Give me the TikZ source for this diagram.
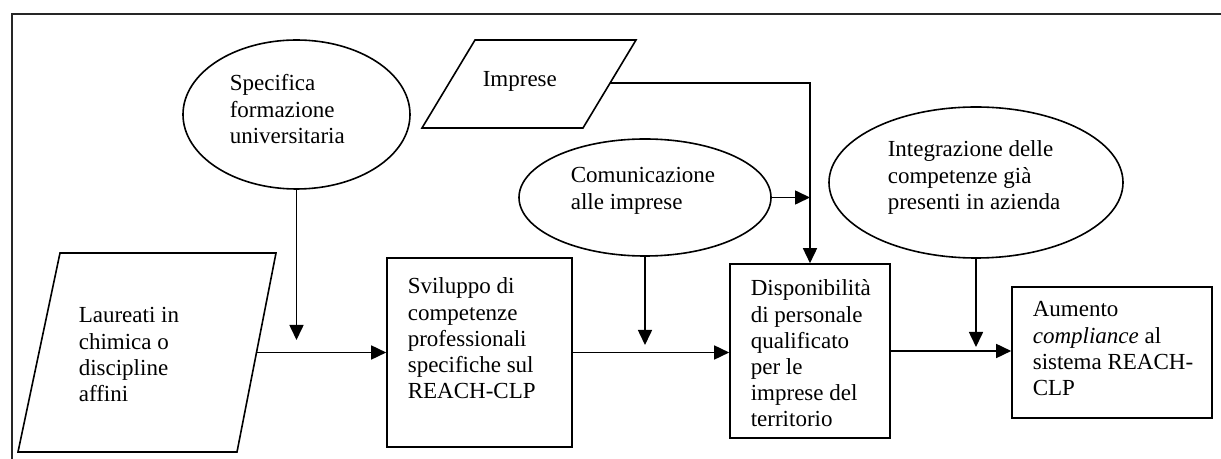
\documentclass[tikz,border=0pt]{standalone}
\usepackage{fontspec}
\setmainfont{Liberation Serif}
\usetikzlibrary{shapes.geometric,arrows.meta,calc}
\begin{document}
\begin{tikzpicture}[x=0.5pt,y=-0.5pt,
  line width=0.8pt,
  arr/.style={-{Triangle[length=7.5pt,width=7pt]}},
  ell/.style={draw,ellipse,inner sep=0pt},
  box/.style={draw,rectangle,inner sep=0pt},
  lbl/.style={anchor=base west,inner sep=0pt,font=\fontsize{11.5pt}{13.1pt}\selectfont}]
\useasboundingbox (0,0) rectangle (1221,459);
% frame
\draw[line width=0.9pt,black!85] (12,459) -- (12,14) -- (1221,14);
% parallelogram: Imprese
\coordinate (I1) at (475,40);
\coordinate (I2) at (636,40);
\coordinate (I3) at (583,128);
\coordinate (I4) at (422,128);
\draw (I1) -- (I2) -- (I3) -- (I4) -- cycle;
\coordinate (IR) at ($(I2)!0.489!(I3)$);
% parallelogram: Laureati
\coordinate (L1) at (60,253);
\coordinate (L2) at (276,253);
\coordinate (L3) at (237,452);
\coordinate (L4) at (18,452);
\draw (L1) -- (L2) -- (L3) -- (L4) -- cycle;
\coordinate (LR) at ($(L2)!0.5!(L3)$);
% ellipses
\node[ell,minimum width=113.5pt,minimum height=74.5pt] (Spec) at (296.5,114.5) {};
\node[ell,minimum width=126pt,minimum height=58.5pt] (Com) at (645,197.5) {};
\node[ell,minimum width=147pt,minimum height=75.5pt] (Int) at (976,182.5) {};
% boxes
\node[box,minimum width=92.5pt,minimum height=94.5pt] (Svil) at (479.5,352.5) {};
\node[box,minimum width=80pt,minimum height=87pt] (Disp) at (810,351) {};
\node[box,minimum width=100pt,minimum height=65.5pt] (Aum) at (1112,352.5) {};
% texts
\node[lbl] (tSpec) at (229,91) {\parbox[t]{6cm}{Specifica\\formazione\\universitaria}};
\node[lbl] (tImp) at (482,87) {\parbox[t]{6cm}{Imprese}};
\node[lbl] (tCom) at (570,183) {\parbox[t]{6cm}{Comunicazione\\alle imprese}};
\node[lbl] (tInt) at (887,157) {\parbox[t]{6cm}{Integrazione delle\\competenze già\\presenti in azienda}};
\node[lbl] (tLau) at (78,323) {\parbox[t]{6cm}{Laureati in\\chimica o\\discipline\\affini}};
\node[lbl] (tSvil) at (407,294) {\parbox[t]{6cm}{Sviluppo di\\competenze\\professionali\\specifiche sul\\REACH-CLP}};
\node[lbl] (tDisp) at (750,296) {\parbox[t]{6cm}{Disponibilità\\di personale\\qualificato\\per le\\imprese del\\territorio}};
\node[lbl] (tAum) at (1032,317) {\parbox[t]{6cm}{Aumento\\\textit{compliance} al\\sistema REACH-\\CLP}};
% free ends
\coordinate (specTip) at (296.5,340);
\coordinate (comTip) at (645,345);
\coordinate (intTip) at (976,347);
% connectors
\draw[arr] (Spec.south) -- (specTip);
\draw[arr] (Com.south) -- (comTip);
\draw[arr] (Int.south) -- (intTip);
\draw[arr] (LR) -- (LR -| Svil.west);
\draw[arr] (Svil.east) -- (Svil.east -| Disp.west);
\draw[arr] (Disp.east) -- (Disp.east -| Aum.west);
\draw[arr] (IR) -| (Disp.north);
\draw[arr] (Com.east) -- (Com.east -| Disp.north);
\end{tikzpicture}
\end{document}
